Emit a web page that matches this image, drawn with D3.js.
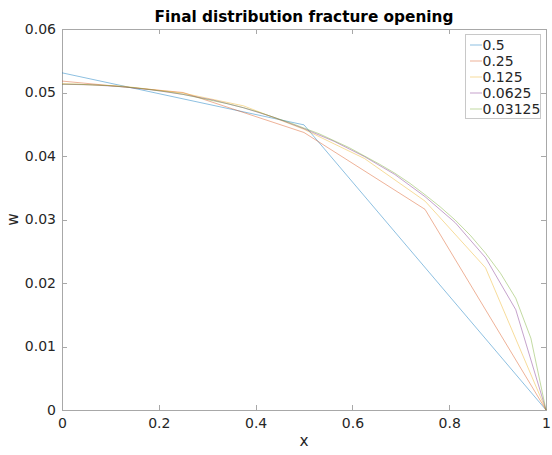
<!DOCTYPE html>
<html>
<head>
<meta charset="utf-8">
<script src="https://cdn.jsdelivr.net/npm/d3@7"></script>
<style>
  html, body { margin: 0; padding: 0; background: #fff; }
  svg { display: block; font-family: "DejaVu Sans", sans-serif; }
</style>
</head>
<body>
<svg id="chart" width="552" height="455"></svg>
<script>
// Mesh sizes of the successive refinements (legend labels)
const meshSizes = ["0.5", "0.25", "0.125", "0.0625", "0.03125"];

// Final opening w at the nodes x = 0, h, 2h, ..., 1 for each mesh size h
const w_h0500 = [0.0531, 0.0449, 0];
const w_h0250 = [0.0518, 0.0500, 0.0437, 0.0316, 0];
const w_h0125 = [0.0514, 0.0510, 0.0499, 0.0479, 0.0442, 0.0396, 0.0329, 0.0224, 0];
const w_h0062 = [0.0513, 0.0512, 0.0509, 0.0504, 0.0497, 0.0488, 0.0476, 0.0461,
                 0.0443, 0.0423, 0.0399, 0.0371, 0.0336, 0.0295, 0.0240, 0.0158, 0];
const w_h0031 = [0.0513, 0.0513, 0.0512, 0.0511, 0.0509, 0.0507, 0.0504, 0.0501,
                 0.0497, 0.0492, 0.0487, 0.0482, 0.0476, 0.0469, 0.0461, 0.0453,
                 0.0444, 0.0435, 0.0424, 0.0413, 0.0400, 0.0387, 0.0373, 0.0357,
                 0.0339, 0.0320, 0.0299, 0.0275, 0.0247, 0.0215, 0.0176, 0.0113, 0];

const xTicks = [0, 0.2, 0.4, 0.6, 0.8, 1];
const yTicks = [0, 0.01, 0.02, 0.03, 0.04, 0.05, 0.06];

const seriesValues = [w_h0500, w_h0250, w_h0125, w_h0062, w_h0031];
const colors = ["#0072BD", "#D95319", "#EDB120", "#7E2F8E", "#77AC30"];

const series = meshSizes.map((name, i) => {
  const vals = seriesValues[i];
  const n = vals.length - 1;
  return { name, color: colors[i], points: vals.map((w, k) => ({ x: k / n, w })) };
});

const margin = { left: 62, right: 6, top: 29, bottom: 45 };
const W = 552, H = 455;
const svg = d3.select("#chart");

const x = d3.scaleLinear().domain([0, 1]).range([margin.left, W - margin.right]);
const y = d3.scaleLinear().domain([0, 0.06]).range([H - margin.bottom, margin.top]);

const axisColor = "#a8a8a8";
const textColor = "#262626";
const fmt = d3.format("~g");

// Bottom and left axes with inward ticks
const gx = svg.append("g").attr("transform", `translate(0,${y(0)})`)
  .call(d3.axisBottom(x).tickValues(xTicks).tickFormat(fmt).tickSizeInner(-5).tickSizeOuter(0).tickPadding(8));
const gy = svg.append("g").attr("transform", `translate(${x(0)},0)`)
  .call(d3.axisLeft(y).tickValues(yTicks).tickFormat(fmt).tickSizeInner(-5).tickSizeOuter(0).tickPadding(6));
// Top and right box edges with ticks
const gt = svg.append("g").attr("transform", `translate(0,${y(0.06)})`)
  .call(d3.axisTop(x).tickValues(xTicks).tickFormat("").tickSizeInner(-5).tickSizeOuter(0));
const gr = svg.append("g").attr("transform", `translate(${x(1)},0)`)
  .call(d3.axisRight(y).tickValues(yTicks).tickFormat("").tickSizeInner(-5).tickSizeOuter(0));

[gx, gy, gt, gr].forEach(g => {
  g.selectAll("path, line").attr("stroke", axisColor).attr("stroke-width", 1).attr("shape-rendering", "crispEdges");
  g.selectAll("text").attr("fill", textColor).attr("font-size", 14).attr("font-family", "DejaVu Sans");
});

// Curves
const line = d3.line().x(d => x(d.x)).y(d => y(d.w));
svg.append("g").selectAll("path").data(series).join("path")
  .attr("d", d => line(d.points))
  .attr("fill", "none")
  .attr("stroke", d => d.color)
  .attr("stroke-width", 0.6)
  .attr("stroke-opacity", 0.75);

// Title and axis labels
svg.append("text").attr("x", (x(0) + x(1)) / 2).attr("y", 22)
  .attr("text-anchor", "middle").attr("font-weight", "bold").attr("font-size", 15.3)
  .attr("fill", "#000").text("Final distribution fracture opening");
svg.append("text").attr("x", (x(0) + x(1)) / 2).attr("y", 446)
  .attr("text-anchor", "middle").attr("font-size", 15.3).attr("fill", textColor).text("x");
svg.append("text").attr("transform", `translate(18,${(y(0) + y(0.06)) / 2}) rotate(-90)`)
  .attr("text-anchor", "middle").attr("font-size", 15.3).attr("fill", textColor).text("w");

// Legend
const lg = svg.append("g");
lg.append("rect").attr("x", 465.5).attr("y", 34.5).attr("width", 75).attr("height", 84)
  .attr("fill", "#fff").attr("stroke", "#c8c8c8").attr("stroke-width", 1);
series.forEach((s, i) => {
  const yy = 45 + i * 16;
  lg.append("line").attr("x1", 470).attr("x2", 482).attr("y1", yy).attr("y2", yy)
    .attr("stroke", s.color).attr("stroke-width", 0.6).attr("stroke-opacity", 0.75);
  lg.append("text").attr("x", 482.5).attr("y", yy).attr("dy", "0.35em")
    .attr("font-size", 14).attr("fill", textColor).text(s.name);
});
</script>
</body>
</html>
